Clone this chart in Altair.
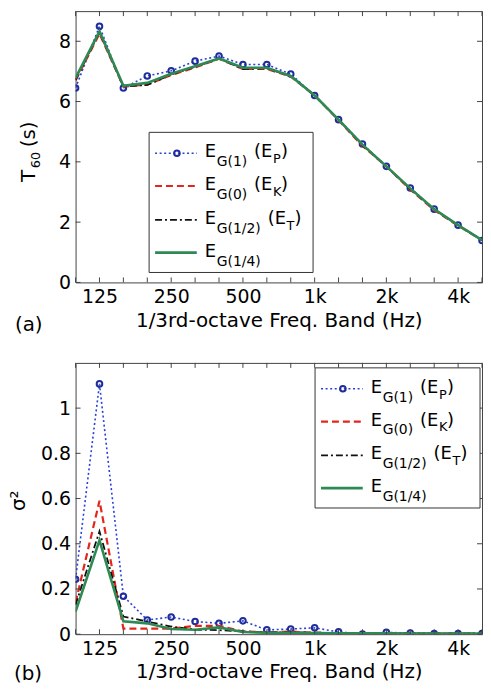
import altair as alt
import pandas as pd

# ---------------- data ----------------
bands = ["100", "125", "160", "200", "250", "315", "400", "500", "630", "800",
         "1k", "1.25k", "1.6k", "2k", "2.5k", "3.15k", "4k", "5k"]
tick_labels = ["", "125", "", "", "250", "", "", "500", "", "",
               "1k", "", "", "2k", "", "", "4k", ""]

# (a) T60 (s)
t60_ep = [6.45, 8.50, 6.45, 6.85, 7.02, 7.34, 7.51, 7.23, 7.23, 6.91,
          6.20, 5.40, 4.59, 3.85, 3.13, 2.43, 1.90, 1.39]
t60_ek = [6.70, 8.25, 6.50, 6.56, 6.88, 7.13, 7.42, 7.08, 7.08, 6.83,
          6.20, 5.38, 4.53, 3.85, 3.08, 2.40, 1.88, 1.40]
t60_et = [6.72, 8.30, 6.50, 6.55, 6.90, 7.15, 7.43, 7.08, 7.10, 6.85,
          6.20, 5.40, 4.55, 3.85, 3.10, 2.42, 1.90, 1.40]
t60_eg = [6.78, 8.33, 6.52, 6.62, 6.92, 7.17, 7.43, 7.12, 7.12, 6.85,
          6.20, 5.40, 4.57, 3.85, 3.12, 2.43, 1.90, 1.40]

# (b) sigma^2
s2_ep = [0.243, 1.107, 0.168, 0.063, 0.076, 0.056, 0.048, 0.059, 0.019, 0.023,
         0.028, 0.010, 0.001, 0.008, 0.005, 0.003, 0.003, 0.003]
s2_ek = [0.140, 0.590, 0.025, 0.025, 0.025, 0.037, 0.037, 0.012, 0.008, 0.012,
         0.006, 0.004, 0.003, 0.003, 0.003, 0.003, 0.003, 0.003]
s2_et = [0.130, 0.455, 0.078, 0.056, 0.034, 0.020, 0.018, 0.012, 0.008, 0.008,
         0.007, 0.005, 0.004, 0.004, 0.003, 0.003, 0.003, 0.003]
s2_eg = [0.100, 0.415, 0.057, 0.048, 0.023, 0.020, 0.030, 0.010, 0.006, 0.006,
         0.005, 0.004, 0.004, 0.004, 0.003, 0.003, 0.003, 0.003]

series = ["EP", "EK", "ET", "EG"]
subs = {"EP": ("G(1)", "P"), "EK": ("G(0)", "K"), "ET": ("G(1/2)", "T"), "EG": ("G(1/4)", None)}

# ---------------- styles ----------------
FONT = "DejaVu Sans"
style = {
    "EP": dict(color="#2a3fd6", strokeDash=[2, 2.6], strokeWidth=1.6),
    "EK": dict(color="#e3261b", strokeDash=[7, 4], strokeWidth=2.2),
    "ET": dict(color="#111111", strokeDash=[7, 3, 2, 3], strokeWidth=1.8),
    "EG": dict(color="#2e8a55", strokeWidth=2.6),
}
MARKER = "#1f2d9c"
FRAME = "#444444"
W = 409
ONE = pd.DataFrame({"a": [0]})
# approximate DejaVu Sans advance widths (em) for the subscript glyphs
EMW = {"G": 0.775, "(": 0.39, ")": 0.39, "/": 0.337}
SUB = 14


def sub_width(t):
    return sum(EMW.get(c, 0.636) for c in t) * SUB


def txt(text, x, y, size, angle=0, align="left"):
    return alt.Chart(ONE).mark_text(text=text, align=align, baseline="alphabetic", angle=angle,
                                    fontSize=size, font=FONT, color="black").encode(
        x=alt.value(x), y=alt.value(y))


def panel(vals, w, h, ydom, yvals, yfmt, ytitle_parts, leg, plabel, plx, ply):
    idx = list(range(len(bands)))
    xs = alt.Scale(domain=[0, len(bands) - 1], nice=False, zero=False)
    ys = alt.Scale(domain=ydom, nice=False, zero=False)
    label_expr = "[" + ",".join("'%s'" % t for t in tick_labels) + "][datum.value]"
    xaxis = alt.Axis(values=[i for i, t in enumerate(tick_labels) if t], labelExpr=label_expr,
                     ticks=False, domain=False, grid=False, labelPadding=5, labelFlush=False,
                     title="1/3rd-octave Freq. Band (Hz)", titlePadding=4)
    yaxis = alt.Axis(values=yvals, format=yfmt, ticks=False, domain=False, grid=False,
                     labelPadding=5, title=None)
    X = alt.X("i:Q", scale=xs, axis=xaxis)
    Y = alt.Y("v:Q", scale=ys, axis=yaxis)
    layers = []
    for s in series:
        df = pd.DataFrame({"i": idx, "v": vals[s]})
        st = style[s]
        layers.append(alt.Chart(df).mark_line(clip=True, **st).encode(x=X, y=Y))
        if s == "EP":
            layers.append(
                alt.Chart(df).mark_point(shape="circle", filled=False, size=32, strokeWidth=2,
                                         color=MARKER, clip=True, opacity=1).encode(x=X, y=Y))
    # inward ticks
    tdf = pd.DataFrame({"i": idx})
    layers.append(alt.Chart(tdf).mark_rule(color=FRAME, strokeWidth=1).encode(
        x=X, y=alt.value(h), y2=alt.value(h - 5)))
    layers.append(alt.Chart(tdf).mark_rule(color=FRAME, strokeWidth=1).encode(
        x=X, y=alt.value(0), y2=alt.value(5)))
    ydf = pd.DataFrame({"v": yvals})
    layers.append(alt.Chart(ydf).mark_rule(color=FRAME, strokeWidth=1).encode(
        y=Y, x=alt.value(0), x2=alt.value(5)))
    layers.append(alt.Chart(ydf).mark_rule(color=FRAME, strokeWidth=1).encode(
        y=Y, x=alt.value(w - 5), x2=alt.value(w)))

    # manual legend
    bx, by, bw, bh = leg
    layers.append(alt.Chart(ONE).mark_rect(fill="white", stroke="#333333", strokeWidth=1).encode(
        x=alt.value(bx), x2=alt.value(bx + bw), y=alt.value(by), y2=alt.value(by + bh)))
    row_y = [21, 54, 88, 121]
    for r, s in enumerate(series):
        ly = by + row_y[r]
        st = dict(style[s])
        layers.append(alt.Chart(ONE).mark_rule(**st).encode(
            x=alt.value(bx + 6), x2=alt.value(bx + 48), y=alt.value(ly)))
        if s == "EP":
            layers.append(alt.Chart(ONE).mark_point(shape="circle", filled=False, size=32,
                                                    strokeWidth=2, color=MARKER, opacity=1).encode(
                x=alt.value(bx + 28), y=alt.value(ly)))
        base = ly + 4
        ex = bx + 56
        sub1, sub2 = subs[s]
        layers.append(txt("E", ex, base, 18))
        sx = ex + 12
        layers.append(txt(sub1, sx, base + 9, SUB))
        if sub2:
            px = sx + sub_width(sub1) + 7
            layers.append(txt("(E", px, base, 18))
            layers.append(txt(sub2, px + 19, base + 6, 13))
            layers.append(txt(")", px + 27, base, 18))
    # y title (rotated pieces)
    for (t, x, y, size) in ytitle_parts:
        layers.append(txt(t, x, y, size, angle=270))
    # panel label
    layers.append(txt(plabel, plx, h + ply, 20))
    return alt.layer(*layers).properties(width=w, height=h)


top = panel({"EP": t60_ep, "EK": t60_ek, "ET": t60_et, "EG": t60_eg},
            W, 273, [0, 9], [0, 2, 4, 6, 8], "d",
            [("T", -41, 172, 20), ("60", -36, 158, 13), ("(s)", -41, 137, 20)],
            (74, 122, 165, 141), "(a)", -61, 49)
bottom = panel({"EP": s2_ep, "EK": s2_ek, "ET": s2_et, "EG": s2_eg},
               W, 273, [0, 1.2], [0, 0.2, 0.4, 0.6, 0.8, 1], "~g",
               [("σ²", -51, 149, 20)],
               (241, 5, 166, 141), "(b)", -62, 46)

chart = alt.vconcat(top, bottom, spacing=26).properties(
    padding={"left": 0, "top": 0, "right": 0, "bottom": 0}
).configure_view(stroke=FRAME, strokeWidth=1).configure_axis(
    labelFont=FONT, titleFont=FONT, labelFontSize=19, titleFontSize=20,
    labelColor="black", titleColor="black", titleFontWeight="normal"
)

chart.save("out.html", embed_options={"renderer": "svg", "actions": False})
